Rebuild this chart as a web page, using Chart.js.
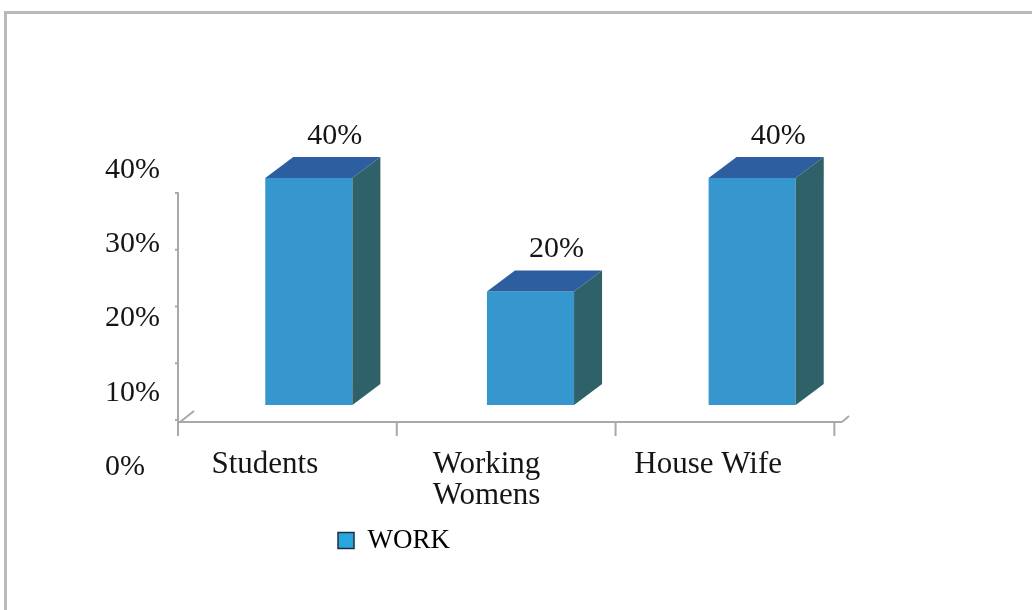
<!DOCTYPE html>
<html>
<head>
<meta charset="utf-8">
<script src="https://cdn.jsdelivr.net/npm/chart.js@4.4.1/dist/chart.umd.min.js"></script>
<style>
  html, body { margin: 0; padding: 0; background: #fff; }
  #wrap { position: relative; width: 1032px; height: 610px; overflow: hidden; }
  #frame { position: absolute; left: 4px; top: 11px; width: 1040px; height: 620px;
           border-top: 3px solid #b9b9b9; border-left: 3px solid #b9b9b9; pointer-events: none; }
</style>
</head>
<body>
<div id="wrap">
  <canvas id="myChart" width="1032" height="610"></canvas>
  <div id="frame"></div>
</div>
<script>
var categories = ['Students', ['Working', 'Womens'], 'House Wife'];
var workValues = [40, 20, 40];
var yTickValues = [0, 10, 20, 30, 40];
var seriesName = 'WORK';

var serif = "'Liberation Serif', 'Times New Roman', serif";
var depthX = 28, depthY = 21;

// pseudo 3d: top and side faces of every bar, plus value label
var bar3d = {
  id: 'bar3d',
  afterDatasetsDraw: function(chart) {
    var ctx = chart.ctx;
    var meta = chart.getDatasetMeta(0);
    ctx.save();
    meta.data.forEach(function(bar, i) {
      var p = bar.getProps(['x', 'y', 'base', 'width'], true);
      var l = p.x - p.width / 2, r = p.x + p.width / 2;
      ctx.fillStyle = '#2c5ea0';
      ctx.beginPath();
      ctx.moveTo(l, p.y);
      ctx.lineTo(r, p.y);
      ctx.lineTo(r + depthX, p.y - depthY);
      ctx.lineTo(l + depthX, p.y - depthY);
      ctx.closePath();
      ctx.fill();

      ctx.fillStyle = '#2f6168';
      ctx.beginPath();
      ctx.moveTo(r, p.y);
      ctx.lineTo(r + depthX, p.y - depthY);
      ctx.lineTo(r + depthX, p.base - depthY);
      ctx.lineTo(r, p.base);
      ctx.closePath();
      ctx.fill();

      ctx.fillStyle = '#151515';
      ctx.font = '30px ' + serif;
      ctx.textAlign = 'center';
      ctx.textBaseline = 'middle';
      ctx.fillText(workValues[i] + '%', p.x + 26, p.y - depthY - 21);
    });
    ctx.restore();
  }
};

// the grey axis frame in front of the bars
var axisDeco = {
  id: 'axisDeco',
  beforeDatasetsDraw: function(chart) {
    var xs = chart.scales.x, ys = chart.scales.yb, ctx = chart.ctx;
    var x0 = xs.left - 20, xr = xs.right - 21;
    var yFloor = ys.getPixelForValue(0) + 17;
    var yTop = ys.getPixelForValue(40) + 14;
    ctx.save();
    ctx.strokeStyle = '#a9a9a9';
    ctx.lineWidth = 2;
    ctx.beginPath();
    ctx.moveTo(x0, yTop); ctx.lineTo(x0, yFloor);
    ctx.moveTo(x0, yFloor); ctx.lineTo(xr, yFloor);
    var n = categories.length;
    for (var i = 0; i <= n; i++) {
      var bx = xs.left + i * (xs.width / n) * 0.987 - 20;
      ctx.moveTo(bx, yFloor); ctx.lineTo(bx, yFloor + 14);
    }
    yTickValues.forEach(function(v) {
      var ty = ys.getPixelForValue(v) + 15;
      ctx.moveTo(x0 - 3, ty); ctx.lineTo(x0, ty);
    });
    ctx.moveTo(x0 + 2, yFloor); ctx.lineTo(x0 + 16, yFloor - 11);
    ctx.moveTo(xr, yFloor); ctx.lineTo(xr + 7, yFloor - 6);
    ctx.stroke();
    ctx.restore();
  }
};

var legendShift = {
  id: 'legendShift',
  afterLayout: function(chart) {
    chart.legend.left -= 90;
    chart.legend.right -= 90;
  }
};

var ctx = document.getElementById('myChart');

var myChart = new Chart(ctx, {
  type: 'bar',
  data: {
    labels: categories,
    datasets: [{
      label: seriesName,
      data: workValues,
      backgroundColor: '#3597ce',
      borderWidth: 0,
      barPercentage: 0.393,
      categoryPercentage: 1,
      yAxisID: 'yb'
    }]
  },
  options: {
    responsive: false,
    animation: false,
    events: [],
    layout: { padding: { top: 143, left: 105, right: 169, bottom: 46 } },
    scales: {
      x: {
        grid: { display: false, drawTicks: false },
        border: { display: false },
        ticks: {
          font: { family: serif, size: 31, lineHeight: 1.0 },
          color: '#151515',
          padding: 9,
          labelOffset: -44,
          maxRotation: 0,
          autoSkip: false
        },
        afterFit: function(s) { s.height = 77; }
      },
      y: {
        position: 'left',
        min: 0,
        max: 40,
        afterBuildTicks: function(s) { s.ticks = yTickValues.map(function(v) { return { value: v }; }); },
        grid: { display: false, drawTicks: false },
        border: { display: false },
        ticks: {
          font: { family: serif, size: 30 },
          color: '#151515',
          crossAlign: 'far',
          labelOffset: 27,
          callback: function(v) { return v + '%'; }
        },
        afterFit: function(s) { s.width = 93; }
      },
      yb: {
        display: false,
        min: -6.17,
        max: 46.16
      }
    },
    plugins: {
      tooltip: { enabled: false },
      legend: {
        position: 'bottom',
        labels: {
          font: { family: serif, size: 27 },
          color: '#151515',
          boxWidth: 16,
          boxHeight: 16,
          padding: 10,
          generateLabels: function(chart) {
            return [{ text: seriesName, fillStyle: '#2aa6df', strokeStyle: '#1b2f3f', lineWidth: 1.5, datasetIndex: 0 }];
          }
        }
      }
    }
  },
  plugins: [axisDeco, bar3d, legendShift]
});
</script>
</body>
</html>
